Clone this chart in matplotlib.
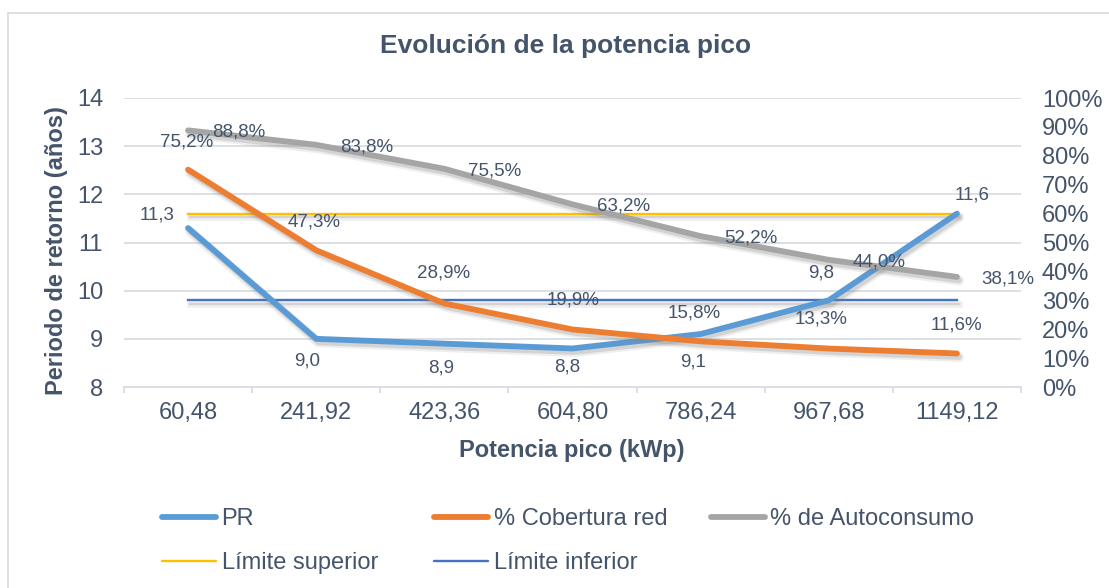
import numpy as np
import matplotlib.pyplot as plt
from matplotlib import patheffects as pe
from matplotlib.lines import Line2D
from matplotlib.patches import Rectangle
from matplotlib.ticker import PercentFormatter

plt.rcParams['font.family'] = ['Liberation Sans', 'DejaVu Sans']

# potencia pico (kWp) y resultados por escenario
categorias = ['60,48', '241,92', '423,36', '604,80', '786,24', '967,68', '1149,12']
pr = [11.3, 9.0, 8.9, 8.8, 9.1, 9.8, 11.6]
cobertura_red = [0.752, 0.473, 0.289, 0.199, 0.158, 0.133, 0.116]
autoconsumo = [0.888, 0.838, 0.755, 0.632, 0.522, 0.440, 0.381]
limite_superior = [11.6] * 7
limite_inferior = [9.8] * 7

# desplazamiento de las etiquetas de datos (pixeles)
pos_pr = [(-31, 13), (-9, -22), (-3, -24), (-5, -19), (-8, -28), (-8, 27), (15, 19)]
pos_cob = [(-1, 28), (-2, 28), (-1, 30), (1, 29), (-6, 28), (-8, 30), (0, 28)]
pos_auto = (24, -2)

TXT = '#44546A'
GRID = '#D9DDE3'
C_PR, C_COB, C_AUTO = '#5B9BD5', '#ED7D31', '#A5A5A5'
C_SUP, C_INF = '#FFC000', '#4472C4'

W, H = 1109, 588


def sombra(lw):
    return [pe.SimpleLineShadow(offset=(1.5, -2.5), shadow_color='#808080', alpha=0.13, linewidth=lw + 3),
            pe.SimpleLineShadow(offset=(1.5, -2.5), shadow_color='#808080', alpha=0.24, linewidth=lw),
            pe.Normal()]


def coma(v, pct=False):
    if pct:
        return f'{v * 100:.1f}%'.replace('.', ',')
    return f'{v:.1f}'.replace('.', ',')


fig = plt.figure(figsize=(W / 100, H / 100), dpi=100)
ax = fig.add_axes([124 / W, 1 - 387 / H, 897 / W, 289 / H])
ax2 = ax.twinx()

x = np.arange(len(categorias))
lw_g, lw_f = 4.2, 1.7

ax.plot(x, limite_superior, color=C_SUP, lw=lw_f, path_effects=sombra(lw_f), zorder=2)
ax.plot(x, limite_inferior, color=C_INF, lw=lw_f, path_effects=sombra(lw_f), zorder=2)
ax.plot(x, pr, color=C_PR, lw=lw_g, solid_joinstyle='round', solid_capstyle='round',
        path_effects=sombra(lw_g), zorder=3)
ax2.plot(x, cobertura_red, color=C_COB, lw=lw_g, solid_joinstyle='round', solid_capstyle='round',
         path_effects=sombra(lw_g))
ax2.plot(x, autoconsumo, color=C_AUTO, lw=lw_g, solid_joinstyle='round', solid_capstyle='round',
         path_effects=sombra(lw_g))

# etiquetas de datos
for i, v in enumerate(pr):
    ax2.annotate(coma(v), xy=(x[i], v), xycoords=ax.transData, xytext=pos_pr[i],
                 textcoords='offset pixels', ha='center', va='center', fontsize=13.5, color=TXT)
for i, v in enumerate(cobertura_red):
    ax2.annotate(coma(v, True), xy=(x[i], v), xytext=pos_cob[i],
                 textcoords='offset pixels', ha='center', va='center', fontsize=13.5, color=TXT)
for i, v in enumerate(autoconsumo):
    ax2.annotate(coma(v, True), xy=(x[i], v), xytext=pos_auto,
                 textcoords='offset pixels', ha='left', va='center', fontsize=13.5, color=TXT)

# ejes
ax.set_xlim(-0.5, len(categorias) - 0.5)
ax.set_ylim(8, 14)
ax2.set_ylim(0, 1)
ax.set_yticks(range(8, 15))
ax2.set_yticks(np.linspace(0, 1, 11))
ax2.yaxis.set_major_formatter(PercentFormatter(1.0, decimals=0))
ax.set_xticks(x)
ax.set_xticklabels(categorias)
ax.set_xticks(np.arange(-0.5, len(categorias)), minor=True)

ax.yaxis.grid(True, color=GRID, lw=1.3)
ax.set_axisbelow(True)
for s in ['top', 'left', 'right']:
    ax.spines[s].set_visible(False)
for s in ax2.spines.values():
    s.set_visible(False)
ax.spines['bottom'].set_color(GRID)
ax.spines['bottom'].set_linewidth(1.3)

ax.tick_params(axis='y', length=0, pad=15, labelsize=17, labelcolor=TXT)
ax2.tick_params(axis='y', length=0, pad=15, labelsize=17, labelcolor=TXT)
ax.tick_params(axis='x', which='major', length=0, pad=11, labelsize=17, labelcolor=TXT)
ax.tick_params(axis='x', which='minor', length=4, width=1.3, color=GRID)

# titulos
fig.text(566 / W, 1 - 46 / H, 'Evolución de la potencia pico', ha='center', va='center',
         fontsize=19, weight='bold', color=TXT)
fig.text(57 / W, 1 - 251 / H, 'Periodo de retorno (años)', rotation=90, ha='center', va='center',
         fontsize=17, weight='bold', color=TXT)
fig.text(572 / W, 1 - 451 / H, 'Potencia pico (kWp)', ha='center', va='center',
         fontsize=17, weight='bold', color=TXT)

# leyenda en tres columnas
def muestra(color, lw):
    return Line2D([], [], color=color, lw=lw, solid_capstyle='round')


columnas = [
    ([muestra(C_PR, lw_g), muestra(C_SUP, lw_f)], ['PR', 'Límite superior'], 162),
    ([muestra(C_COB, lw_g), muestra(C_INF, lw_f)], ['% Cobertura red', 'Límite inferior'], 434),
    ([muestra(C_AUTO, lw_g)], ['% de Autoconsumo'], 711),
]
for handles, labels, x0 in columnas:
    fig.legend(handles, labels, loc='upper left', bbox_to_anchor=(x0 / W, 1 - 508 / H),
               frameon=False, fontsize=17, handlelength=2.3, handletextpad=0.22,
               labelspacing=0.95, borderpad=0, borderaxespad=0, labelcolor=TXT)

# marco del area del grafico
fig.add_artist(Rectangle((8 / W, -0.1), 1.2, 1.1 - 13 / H, transform=fig.transFigure,
                         fill=False, edgecolor=GRID, lw=1.3))

fig.savefig('out.png', dpi=100)
